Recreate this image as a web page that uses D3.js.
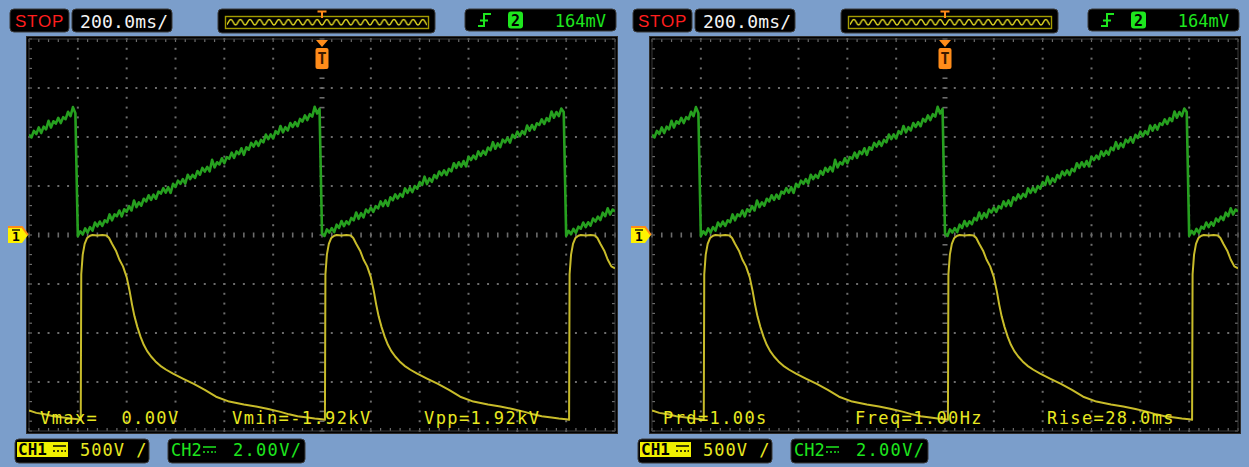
<!DOCTYPE html>
<html><head><meta charset="utf-8">
<script src="https://cdn.jsdelivr.net/npm/d3@7"></script>
<style>
html,body{margin:0;padding:0;background:#fff;}
svg{display:block;}
</style></head><body>
<svg id="c" width="1249" height="467"></svg>
<script>
// Acquisition settings
const timePerDiv = 200;      // ms / div
const ch1PerDiv = 500;       // V / div
const ch2PerDiv = 2;         // V / div
const runState = "STOP";
const timebaseLabel = "200.0ms/";
const triggerChannel = "2";
const triggerLevel = "164mV";
const ch1Scale = "500V /";
const ch2Scale = "2.00V/";

// CH2: sawtooth, one sample every 10 ms starting at -1200 ms (V)
const ch2Start = -1200, ch2Step = 10;
const ch2Volts = [
  4.10,3.98,4.25,4.12,4.39,4.16,4.42,4.31,4.66,4.39,4.64,4.55,4.78,4.57,4.81,4.73,5.03,4.85,5.22,4.97,
  -0.05,0.15,0.02,0.27,0.10,0.32,0.18,0.51,0.35,0.55,0.37,0.60,0.52,0.84,0.60,0.84,0.77,1.00,0.76,1.05,
  0.95,1.18,1.00,1.41,1.14,1.33,1.20,1.48,1.37,1.62,1.43,1.65,1.48,1.77,1.69,1.91,1.73,1.95,1.72,2.09,
  1.96,2.22,2.09,2.28,2.10,2.46,2.28,2.45,2.33,2.61,2.46,2.74,2.59,2.78,2.60,3.07,2.76,2.97,2.88,3.13,
  2.93,3.18,3.11,3.36,3.15,3.41,3.30,3.54,3.27,3.58,3.48,3.76,3.61,3.82,3.64,3.88,3.78,4.10,3.91,4.11,
  3.94,4.24,4.13,4.45,4.19,4.40,4.27,4.57,4.41,4.61,4.44,4.74,4.63,4.88,4.69,4.93,4.83,5.23,4.96,5.15,
  0.06,-0.04,0.23,0.10,0.28,0.12,0.42,0.29,0.57,0.36,0.56,0.44,0.70,0.60,0.92,0.66,0.89,0.72,1.04,0.92,
  1.12,0.94,1.18,1.09,1.37,1.18,1.41,1.19,1.54,1.42,1.66,1.49,1.68,1.56,1.90,1.72,1.93,1.75,2.00,1.89,
  2.16,2.04,2.38,2.08,2.31,2.17,2.45,2.32,2.59,2.44,2.64,2.45,2.70,2.60,2.93,2.74,2.97,2.79,3.02,2.80,
  3.19,3.06,3.24,3.10,3.41,3.23,3.43,3.28,3.57,3.46,3.79,3.52,3.74,3.59,3.89,3.78,3.97,3.77,4.09,3.96,
  4.22,4.03,4.24,4.11,4.47,4.26,4.49,4.30,4.56,4.49,4.72,4.53,4.77,4.65,5.04,4.79,5.02,4.85,5.16,5.02,
  -0.04,0.17,0.03,0.25,0.09,0.34,0.26,0.51,0.32,0.52,0.38,0.67,0.55,0.75,0.61,0.91,0.77,1.09,0.84,1.04,
  0.96
];

// CH1: high-voltage pulse, time (ms) and level (V)
const ch1Time = [
  -1200,-1170,-1135,-1100,-1060,-1030,-1000,
  -988,-986,-980,-972,-962,-950,-940,-920,-900,-882,-872,-860,-844,-830,-815,-800,-788,-778,-768,-756,
  -743,-730,-716,-700,-682,-662,-638,-610,-570,-525,-480,-434,-380,-320,-270,-220,-170,-135,-100,-60,-30,0,
  12,14,20,28,38,50,60,80,100,118,128,140,156,170,185,200,212,222,232,244,
  257,270,284,300,318,338,362,390,430,475,520,566,620,680,730,780,830,865,900,940,970,1000,
  1012,1014,1020,1028,1038,1050,1060,1080,1100,1118,1128,1140,1156,1170,1185,1200
];
const ch1Volts = [
  -1790,-1815,-1830,-1850,-1862,-1872,-1880,
  -1885,-400,-200,-90,-30,-8,0,-4,0,-6,-30,-90,-160,-250,-320,-430,-570,-710,-830,-940,
  -1040,-1120,-1185,-1240,-1290,-1335,-1375,-1415,-1465,-1520,-1580,-1650,-1700,-1730,-1750,-1775,-1805,-1830,-1850,-1862,-1872,-1880,
  -1885,-400,-200,-90,-30,-8,0,-4,0,-6,-30,-90,-160,-250,-320,-430,-570,-710,-830,-940,
  -1040,-1120,-1185,-1240,-1290,-1335,-1375,-1415,-1465,-1520,-1580,-1650,-1700,-1730,-1750,-1775,-1805,-1830,-1850,-1862,-1872,-1880,
  -1885,-400,-200,-90,-30,-8,0,-4,0,-6,-30,-90,-160,-250,-320,-340
];

// Measurement readouts of each screen
const measVoltage = ["Vmax=  0.00V", "Vmin=-1.92kV", "Vpp=1.92kV"];
const measTiming = ["Prd=1.00s", "Freq=1.00Hz", "Rise=28.0ms"];

const svg = d3.select("#c");
const mono = "'DejaVu Sans Mono', monospace";
const C = {
  bg: "#7B9ECB", box: "#000", boxStroke: "#3a3a3a",
  red: "#FF1E1E", white: "#F4F4F4", green: "#1EE61E", yellow: "#E8E820",
  trace1: "#C8BC2A", trace2: "#26A01F", grid: "#6c6c6c", orange: "#FF8C1A"
};

svg.append("rect").attr("width", 1249).attr("height", 467).attr("fill", C.bg);

const defs = svg.append("defs");
// squiggle used inside the memory overview bar
defs.append("pattern").attr("id", "sq").attr("patternUnits", "userSpaceOnUse")
  .attr("width", 9.6).attr("height", 30).attr("x", 226)
  .append("path").attr("d", "M0,25 C2,25 2.6,19.5 4.8,19.5 C7,19.5 7.6,25 9.6,25")
  .attr("fill", "none").attr("stroke", "#E0D820").attr("stroke-width", 1.4);

function box(g, x, y, w, h) {
  return g.append("rect").attr("x", x).attr("y", y).attr("width", w).attr("height", h)
    .attr("rx", 4).attr("fill", C.box).attr("stroke", C.boxStroke).attr("stroke-width", 1);
}

function drawScope(bx, meas, id) {
  const g = svg.append("g").attr("transform", `translate(${bx},0)`);
  const L = 29, R = 615, T = 39, B = 431;

  const x = d3.scaleLinear().domain([-6 * timePerDiv, 6 * timePerDiv]).range([L, R]);
  const y1 = d3.scaleLinear().domain([-4 * ch1PerDiv, 4 * ch1PerDiv]).range([B, T]);
  const y2 = d3.scaleLinear().domain([-4 * ch2PerDiv, 4 * ch2PerDiv]).range([B, T]);

  // ---- top status bar
  box(g, 10, 9, 59, 23);
  g.append("text").attr("x", 39.5).attr("y", 27).attr("text-anchor", "middle")
    .attr("font-family", "'Liberation Sans', Arial, sans-serif").attr("font-size", 17)
    .attr("letter-spacing", 0.8).attr("fill", C.red).text(runState);
  box(g, 72, 9, 100, 23);
  g.append("text").attr("x", 80).attr("y", 27.5).attr("font-family", mono).attr("font-size", 18)
    .attr("letter-spacing", 0.2).attr("fill", C.white).text(timebaseLabel);

  box(g, 218, 9, 217, 24);
  g.append("rect").attr("x", 225.5).attr("y", 16.5).attr("width", 203).attr("height", 12)
    .attr("fill", "none").attr("stroke", "#A49C00").attr("stroke-width", 1.4);
  g.append("rect").attr("x", 227).attr("y", 18).attr("width", 200).attr("height", 9).attr("fill", "url(#sq)");
  // trigger position on overview
  g.append("path").attr("d", `M${x(0) - 4.5},11.5 H${x(0) + 4.5} M${x(0)},11.5 V18`)
    .attr("stroke", C.orange).attr("stroke-width", 2).attr("fill", "none");

  box(g, 465, 9, 151, 22);
  g.append("path").attr("d", "M478,26 H484 V14 H491 M480,20.5 H488")
    .attr("stroke", C.green).attr("stroke-width", 2).attr("fill", "none");
  g.append("rect").attr("x", 508).attr("y", 11.5).attr("width", 15).attr("height", 17).attr("rx", 3).attr("fill", C.green);
  g.append("text").attr("x", 515.5).attr("y", 25.5).attr("text-anchor", "middle").attr("font-family", mono)
    .attr("font-weight", "bold").attr("font-size", 15).attr("fill", "#000").text(triggerChannel);
  g.append("text").attr("x", 606).attr("y", 26.5).attr("text-anchor", "end").attr("font-family", mono)
    .attr("font-size", 17).attr("fill", C.green).text(triggerLevel);

  // ---- screen
  g.append("rect").attr("x", L - 2).attr("y", T - 2).attr("width", R - L + 4).attr("height", B - T + 4).attr("fill", "#000");
  g.append("rect").attr("x", L - 2.5).attr("y", T - 2.5).attr("width", R - L + 5).attr("height", B - T + 5)
    .attr("fill", "none").attr("stroke", "#2e2e2e").attr("stroke-width", 1);

  const majX = d3.range(-6, 7).map(d => d * timePerDiv);
  const minX = d3.range(-30, 31).map(d => d * timePerDiv / 5);
  const majY = d3.range(-4, 5).map(d => d * ch1PerDiv);
  const minY = d3.range(-20, 21).map(d => d * ch1PerDiv / 5);
  const grid = g.append("g");

  // dotted division lines
  majX.filter(v => v !== 0 && Math.abs(v) !== 6 * timePerDiv).forEach(v => {
    grid.selectAll(null).data(minY).enter().append("rect")
      .attr("x", x(v) - 1).attr("y", d => y1(d) - 1).attr("width", 2).attr("height", 2).attr("fill", C.grid);
  });
  majY.filter(v => v !== 0 && Math.abs(v) !== 4 * ch1PerDiv).forEach(v => {
    grid.selectAll(null).data(minX).enter().append("rect")
      .attr("x", d => x(d) - 1).attr("y", y1(v) - 1).attr("width", 2).attr("height", 2).attr("fill", C.grid);
  });
  // centre graticule ticks
  grid.selectAll(null).data(minX).enter().append("line")
    .attr("x1", d => x(d)).attr("x2", d => x(d)).attr("y1", y1(0) - 2.5).attr("y2", y1(0) + 2.5)
    .attr("stroke", C.grid).attr("stroke-width", 1.6);
  grid.selectAll(null).data(minY).enter().append("line")
    .attr("y1", d => y1(d)).attr("y2", d => y1(d)).attr("x1", x(0) - 2.5).attr("x2", x(0) + 2.5)
    .attr("stroke", C.grid).attr("stroke-width", 1.6);
  // border ticks
  grid.selectAll(null).data(minX).enter().append("line")
    .attr("x1", d => x(d)).attr("x2", d => x(d)).attr("y1", T).attr("y2", T + 3)
    .attr("stroke", C.grid).attr("stroke-width", 1.2);
  grid.selectAll(null).data(minX).enter().append("line")
    .attr("x1", d => x(d)).attr("x2", d => x(d)).attr("y1", B - 3).attr("y2", B)
    .attr("stroke", C.grid).attr("stroke-width", 1.2);
  grid.selectAll(null).data(minY).enter().append("line")
    .attr("y1", d => y1(d)).attr("y2", d => y1(d)).attr("x1", L).attr("x2", L + 3)
    .attr("stroke", C.grid).attr("stroke-width", 1.2);
  grid.selectAll(null).data(minY).enter().append("line")
    .attr("y1", d => y1(d)).attr("y2", d => y1(d)).attr("x1", R - 3).attr("x2", R)
    .attr("stroke", C.grid).attr("stroke-width", 1.2);
  grid.append("rect").attr("x", L).attr("y", T).attr("width", R - L).attr("height", B - T)
    .attr("fill", "none").attr("stroke", "#3a3a3a").attr("stroke-width", 1);

  // ---- traces
  g.append("clipPath").attr("id", "clip" + id).append("rect")
    .attr("x", L).attr("y", T).attr("width", R - L).attr("height", B - T);
  const traces = g.append("g").attr("clip-path", `url(#clip${id})`);

  const line2 = d3.line().x((d, i) => x(ch2Start + i * ch2Step)).y(d => y2(d));
  const line1 = d3.line().x(d => x(d[0])).y(d => y1(d[1]));
  traces.append("path").attr("d", line1(ch1Time.map((t, i) => [t, ch1Volts[i]])))
    .attr("fill", "none").attr("stroke", C.trace1).attr("stroke-width", 2).attr("stroke-linejoin", "round");
  traces.append("path").attr("d", line2(ch2Volts))
    .attr("fill", "none").attr("stroke", C.trace2).attr("stroke-width", 2.6).attr("stroke-linejoin", "round");

  // trigger position marker
  const tx = x(0);
  g.append("path").attr("d", `M${tx - 6},${T + 1} H${tx + 6} L${tx},${T + 8} Z`).attr("fill", C.orange);
  g.append("rect").attr("x", tx - 6.5).attr("y", T + 9).attr("width", 13).attr("height", 21).attr("rx", 2).attr("fill", C.orange);
  g.append("text").attr("x", tx).attr("y", T + 25).attr("text-anchor", "middle").attr("font-family", mono)
    .attr("font-weight", "bold").attr("font-size", 15).attr("fill", "#3a1a00").text("T");

  // CH1 ground marker
  const gy = y1(0);
  g.append("path").attr("d", `M8,${gy - 8} H22 L28,${gy} L22,${gy + 8} H8 Z`).attr("fill", "#FFF200");
  g.append("path").attr("d", `M8,${gy - 8} H22 L28,${gy}`).attr("fill", "none").attr("stroke", C.orange).attr("stroke-width", 2);
  g.append("text").attr("x", 16).attr("y", gy + 6).attr("text-anchor", "middle").attr("font-family", mono)
    .attr("font-size", 13).attr("font-weight", "bold").attr("fill", "#000").text("1");
  g.append("line").attr("x1", 12).attr("x2", 20).attr("y1", gy - 5).attr("y2", gy - 5).attr("stroke", "#000").attr("stroke-width", 1.3);

  // measurement readouts
  const mx = [40, 232, 424];
  meas.forEach((m, i) => {
    g.append("text").attr("x", mx[i]).attr("y", 424).attr("font-family", mono).attr("font-size", 17)
      .attr("letter-spacing", 1.4).attr("fill", C.yellow).attr("xml:space", "preserve").style("white-space", "pre").text(m);
  });

  // ---- bottom channel bar
  box(g, 15, 439, 134, 24);
  g.append("rect").attr("x", 17).attr("y", 442).attr("width", 51).attr("height", 15).attr("fill", "#F0F000");
  g.append("text").attr("x", 18).attr("y", 455).attr("font-family", mono).attr("font-weight", "bold")
    .attr("font-size", 16).attr("fill", "#000").text("CH1");
  g.append("path").attr("d", "M53,446 H66 M53,451 H55 M57,451 H59 M61,451 H63 M64.5,451 H66")
    .attr("stroke", "#000").attr("stroke-width", 1.6);
  g.append("text").attr("x", 80).attr("y", 456).attr("font-family", mono).attr("font-size", 17)
    .attr("letter-spacing", 1).attr("fill", C.yellow).attr("xml:space", "preserve").style("white-space", "pre").text(ch1Scale);

  box(g, 168, 439, 137, 24);
  g.append("text").attr("x", 171).attr("y", 456).attr("font-family", mono).attr("font-size", 17)
    .attr("fill", C.green).text("CH2");
  g.append("path").attr("d", "M203,447 H216 M203,452 H205 M207,452 H209 M211,452 H213 M214.5,452 H216")
    .attr("stroke", C.green).attr("stroke-width", 1.6);
  g.append("text").attr("x", 233).attr("y", 456).attr("font-family", mono).attr("font-size", 17)
    .attr("letter-spacing", 1.3).attr("fill", C.green).text(ch2Scale);
}

drawScope(0, measVoltage, "a");
drawScope(623, measTiming, "b");
</script>
</body></html>
